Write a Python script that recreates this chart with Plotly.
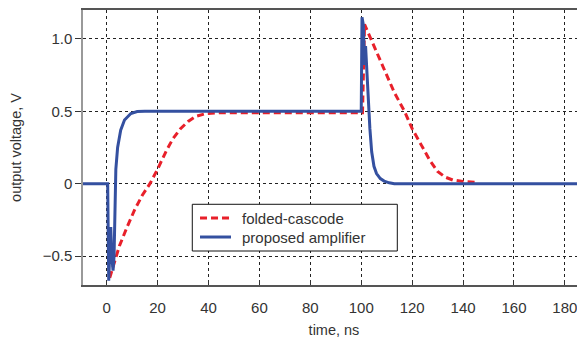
import plotly.graph_objects as go

# folded-cascode (red dashed)
fc_t = [1.2, 3, 5, 8, 11, 14, 17, 20, 23.5, 26, 29, 32, 35, 39, 45, 100, 100.5,
        101.3, 105, 109, 113, 117, 120, 123.5, 127, 130, 133, 136, 140, 145]
fc_v = [-0.65, -0.55, -0.43, -0.3, -0.18, -0.08, 0.0, 0.1, 0.23, 0.31, 0.38, 0.43, 0.465, 0.485, 0.49, 0.49, 0.49,
        1.1, 0.95, 0.78, 0.63, 0.5, 0.38, 0.27, 0.16, 0.085, 0.045, 0.025, 0.015, 0.01]

# proposed amplifier (blue solid)
pa_t = [-10, 0.4, 0.8, 1.3, 1.6, 2.0, 2.5, 2.9, 3.2, 3.6, 4.3, 4.8, 5.5, 7, 9.5, 12, 15, 100,
        100.3, 100.8, 101.3, 101.7, 102.2, 102.8, 103.4, 104.1, 105, 106, 107.5, 109, 111, 113, 190]
pa_v = [0, 0, -0.67, -0.45, -0.3, -0.5, -0.6, -0.5, -0.1, 0.1, 0.25, 0.3, 0.37, 0.44, 0.485, 0.498, 0.5, 0.5,
        1.15, 1.1, 0.82, 0.95, 0.75, 0.55, 0.38, 0.22, 0.12, 0.07, 0.035, 0.018, 0.006, 0.0, 0.0]

x_ticks = [0, 20, 40, 60, 80, 100, 120, 140, 160, 180]
y_ticks = [-0.5, 0, 0.5, 1.0]
y_tick_text = ["\u22120.5", "0", "0.5", "1.0"]

FONT = "Liberation Sans, Arial, Helvetica, sans-serif"
RED = "#e8202a"
BLUE = "#3450a0"
RED_DASH = "7px,4px"

fig = go.Figure()
fig.add_trace(go.Scatter(x=fc_t, y=fc_v, mode="lines", name="folded-cascode",
                         line=dict(color=RED, width=3, dash=RED_DASH)))
fig.add_trace(go.Scatter(x=pa_t, y=pa_v, mode="lines", name="proposed amplifier",
                         line=dict(color=BLUE, width=3)))

grid = dict(showgrid=True, gridcolor="#222222", gridwidth=1, griddash="3px,3px")

# legend drawn as a boxed key inside the plot area (paper coordinates)
shapes = [
    dict(type="rect", xref="paper", yref="paper", x0=0.2177, x1=0.6261, y0=0.1236, y1=0.2935,
         line=dict(color="#111111", width=1), fillcolor="white", layer="above"),
    dict(type="line", xref="paper", yref="paper", x0=0.2331, x1=0.2948, y0=0.2436, y1=0.2436,
         line=dict(color=RED, width=3, dash=RED_DASH), layer="above"),
    dict(type="line", xref="paper", yref="paper", x0=0.2331, x1=0.2948, y0=0.1745, y1=0.1745,
         line=dict(color=BLUE, width=3), layer="above"),
]
annotations = [
    dict(xref="paper", yref="paper", x=0.3127, y=0.2436, text="folded-cascode", showarrow=False,
         xanchor="left", yanchor="middle", font=dict(size=15, color="#333333")),
    dict(xref="paper", yref="paper", x=0.3127, y=0.1745, text="proposed amplifier", showarrow=False,
         xanchor="left", yanchor="middle", font=dict(size=15, color="#333333")),
]

fig.update_layout(
    width=577, height=335,
    margin=dict(l=75, r=0, t=2, b=58),
    paper_bgcolor="white", plot_bgcolor="white",
    font=dict(family=FONT, size=15, color="#333333"),
    showlegend=False,
    shapes=shapes,
    annotations=annotations,
    xaxis=dict(range=[-9.3, 187.9], tickvals=x_ticks, ticks="inside", ticklen=5,
               tickcolor="#333333", showline=True, linecolor="#555555", linewidth=1.5,
               mirror=True, zeroline=False, automargin=False, ticklabelstandoff=8,
               title=dict(text="time, ns", standoff=10, font=dict(size=14.5)), **grid),
    yaxis=dict(range=[-0.70, 1.20], tickvals=y_ticks, ticktext=y_tick_text, ticks="outside",
               ticklen=6, tickcolor="#333333", showline=True, linecolor="#999999", linewidth=1.5,
               zeroline=False, automargin=False,
               title=dict(text="output voltage, V", standoff=20, font=dict(size=14.5)), **grid),
)

fig.write_html("out.html")
